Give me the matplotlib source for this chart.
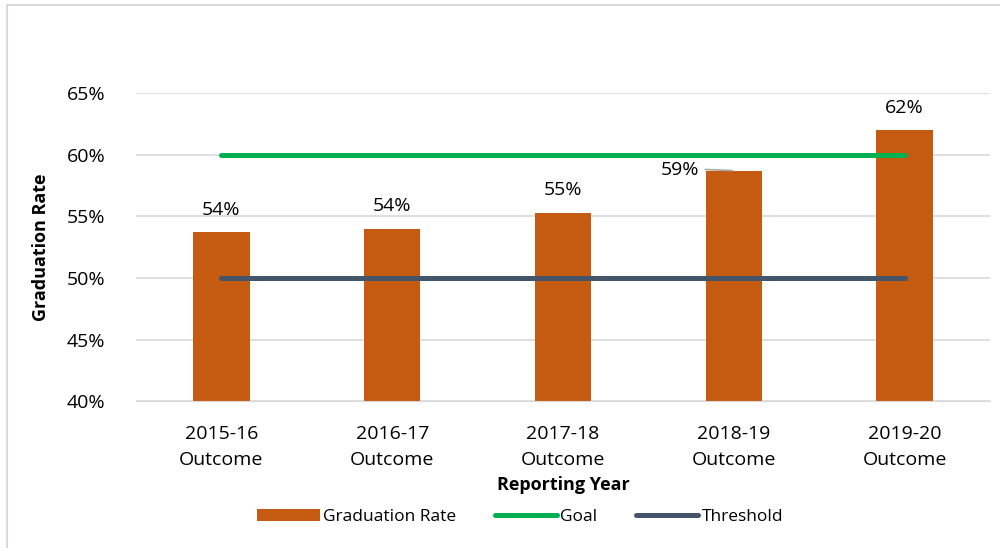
import matplotlib.pyplot as plt
from matplotlib.patches import Rectangle
from matplotlib.ticker import FuncFormatter

# data
years = ["2015-16\nOutcome", "2016-17\nOutcome", "2017-18\nOutcome",
         "2018-19\nOutcome", "2019-20\nOutcome"]
grad_rate = [53.7, 54.0, 55.3, 58.7, 62.0]
labels = ["54%", "54%", "55%", "59%", "62%"]
goal = [60, 60, 60, 60, 60]
threshold = [50, 50, 50, 50, 50]

plt.rcParams['font.family'] = ['Open Sans', 'DejaVu Sans']

fig = plt.figure(figsize=(10, 5.48), dpi=100)
ax = fig.add_axes([0.136, 0.268, 0.854, 0.562])

# chart border
fig.patches.append(Rectangle((0.007, -0.1), 1.1, 1.09, transform=fig.transFigure,
                             fill=False, edgecolor='#d9d9d9', linewidth=1.5))

x = list(range(len(years)))
bars = ax.bar(x, grad_rate, width=0.33, color='#C55A11', zorder=2, label='Graduation Rate')
g, = ax.plot(x, goal, color='#00B050', lw=3.6, solid_capstyle='round', zorder=3, label='Goal')
t, = ax.plot(x, threshold, color='#44546A', lw=3.6, solid_capstyle='round', zorder=3, label='Threshold')

for i, (v, s) in enumerate(zip(grad_rate, labels)):
    if i == 3:
        ax.text(i - 0.2, v + 0.05, s, ha='right', va='center', fontsize=14)
        ax.plot([i - 0.165, i - 0.01], [v + 0.1, v + 0.02], color='#a6a6a6', lw=1.2, zorder=4)
    else:
        ax.text(i, v + 1.1, s, ha='center', va='bottom', fontsize=14)

ax.set_xlim(-0.5, 4.5)
ax.set_ylim(40, 65)
ax.set_yticks([40, 45, 50, 55, 60, 65])
ax.yaxis.set_major_formatter(FuncFormatter(lambda v, p: f"{v:.0f}%"))
ax.set_xticks(x)
ax.set_xticklabels(years, linespacing=1.6)
ax.tick_params(axis='both', length=0, labelsize=14)
ax.tick_params(axis='x', pad=17)
ax.tick_params(axis='y', pad=22)
ax.grid(axis='y', color='#d9d9d9', lw=1.2, zorder=0)
for sp in ['top', 'right', 'left']:
    ax.spines[sp].set_visible(False)
ax.spines['bottom'].set_color('#d9d9d9')

ax.set_ylabel("Graduation Rate", fontsize=13, fontweight='bold', labelpad=12)
ax.set_xlabel("Reporting Year", fontsize=13, fontweight='bold', labelpad=5)

ax.legend([bars, g, t], ['Graduation Rate', 'Goal', 'Threshold'],
          loc='upper center', bbox_to_anchor=(0.45, -0.30), ncol=3, frameon=False,
          fontsize=12.5, handlelength=3.6, handletextpad=0.2, columnspacing=2.2)

fig.savefig("out.png", dpi=100)
